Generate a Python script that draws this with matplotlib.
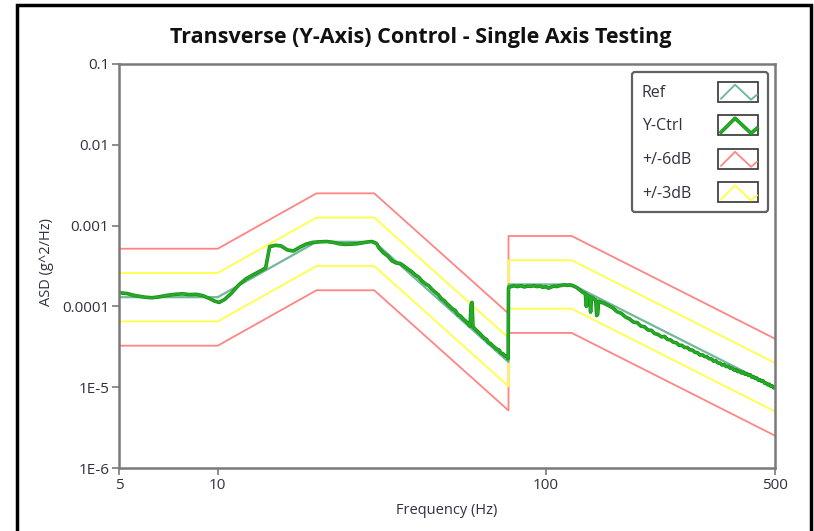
import numpy as np
import matplotlib
matplotlib.use('Agg')
import matplotlib.pyplot as plt
import matplotlib.patheffects as pe
from matplotlib.patches import Rectangle
from matplotlib.lines import Line2D
from matplotlib.legend_handler import HandlerBase
from matplotlib.ticker import NullLocator

plt.rcParams['font.family'] = ['Open Sans', 'DejaVu Sans']

# reference profile breakpoints (Hz, g^2/Hz)
ref_freq = [5, 10, 20, 30, 77, 77, 120, 500]
ref_asd = [1.3e-4, 1.3e-4, 6.3e-4, 6.3e-4, 2.05e-5, 1.87e-4, 1.87e-4, 1.0e-5]

# tolerance bands around the reference, in dB
abort_db = 6
alarm_db = 3

# measured control spectrum
ctrl_freq = [5.0, 5.3, 5.6, 6.0, 6.3, 6.6, 7.0, 7.4, 7.8, 8.2,
             8.6, 9.0, 9.4, 9.8, 10.1, 10.5, 11.0, 11.6, 12.2, 12.8,
             13.5, 14.0, 14.4, 15.0, 15.6, 16.3, 17.0, 17.8, 18.6, 19.5,
             20.5, 21.5, 22.5, 23.5, 24.5, 25.5, 26.5, 27.5, 28.5, 29.5,
             30.5, 31, 32, 33, 34, 35, 36, 37, 38, 39,
             40, 41, 42, 43, 44, 45, 46, 47, 48, 49,
             50, 51, 52, 53, 54, 55, 56, 57, 58, 58.8,
             59.2, 59.6, 60.0, 61, 62, 63, 64, 65, 66, 67,
             68, 69, 70, 71, 72, 73, 74, 75, 76, 76.8,
             77.0, 78, 80, 82, 84, 86, 88, 90, 92, 94,
             96, 98, 100, 102, 104, 106, 108, 110, 112, 114,
             116, 118, 121, 124, 127, 130, 132, 133, 134, 136,
             137, 138, 140, 142, 143, 144, 145, 148, 150, 155,
             160, 165, 170, 175, 180, 185, 190, 195, 200, 205,
             210, 215, 220, 225, 230, 235, 240, 245, 250, 255,
             260, 265, 270, 275, 280, 285, 290, 295, 300, 305,
             310, 315, 320, 325, 330, 335, 340, 345, 350, 355,
             360, 365, 370, 375, 380, 385, 390, 395, 400, 405,
             410, 415, 420, 425, 430, 435, 440, 445, 450, 455,
             460, 465, 470, 475, 480, 485, 490, 495, 500]
ctrl_asd = [1.48e-4, 1.44e-4, 1.36e-4, 1.3e-4, 1.28e-4, 1.31e-4, 1.37e-4, 1.41e-4, 1.43e-4, 1.4e-4,
            1.41e-4, 1.36e-4, 1.26e-4, 1.16e-4, 1.12e-4, 1.22e-4, 1.45e-4, 1.85e-4, 2.2e-4, 2.45e-4,
            2.75e-4, 3.0e-4, 5.5e-4, 5.7e-4, 5.6e-4, 5.0e-4, 4.85e-4, 5.4e-4, 5.9e-4, 6.2e-4,
            6.3e-4, 6.35e-4, 6.2e-4, 5.95e-4, 5.85e-4, 5.9e-4, 5.95e-4, 6.1e-4, 6.25e-4, 6.35e-4,
            6.0e-4, 5.3e-4, 4.6e-4, 4.2e-4, 3.65e-4, 3.45e-4, 3.4e-4, 3.15e-4, 2.9e-4, 2.7e-4,
            2.45e-4, 2.3e-4, 2.05e-4, 1.9e-4, 1.8e-4, 1.62e-4, 1.5e-4, 1.4e-4, 1.25e-4, 1.18e-4,
            1.08e-4, 1.0e-4, 9.3e-5, 8.9e-5, 7.9e-5, 7.6e-5, 7.0e-5, 6.6e-5, 6.1e-5, 5.7e-5,
            1.05e-4, 1.12e-4, 5.6e-5, 5.2e-5, 4.9e-5, 4.6e-5, 4.3e-5, 4.05e-5, 3.9e-5, 3.55e-5,
            3.45e-5, 3.25e-5, 3.1e-5, 2.95e-5, 2.9e-5, 2.65e-5, 2.6e-5, 2.45e-5, 2.4e-5, 2.25e-5,
            1.7e-4, 1.75e-4, 1.8e-4, 1.76e-4, 1.8e-4, 1.74e-4, 1.78e-4, 1.77e-4, 1.8e-4, 1.76e-4,
            1.78e-4, 1.72e-4, 1.75e-4, 1.68e-4, 1.74e-4, 1.78e-4, 1.76e-4, 1.8e-4, 1.82e-4, 1.85e-4,
            1.82e-4, 1.84e-4, 1.8e-4, 1.72e-4, 1.6e-4, 1.48e-4, 1.45e-4, 1.0e-4, 1.38e-4, 1.32e-4,
            8.5e-5, 1.3e-4, 1.25e-4, 1.2e-4, 7.7e-5, 8.0e-5, 1.16e-4, 1.12e-4, 1.1e-4, 1.03e-4,
            9.6e-5, 8.6e-5, 8.2e-5, 7.4e-5, 7.0e-5, 6.4e-5, 6.3e-5, 5.7e-5, 5.6e-5, 5.1e-5,
            5.05e-5, 4.6e-5, 4.5e-5, 4.2e-5, 4.25e-5, 3.9e-5, 3.85e-5, 3.6e-5, 3.55e-5, 3.3e-5,
            3.3e-5, 3.1e-5, 3.1e-5, 2.9e-5, 2.88e-5, 2.7e-5, 2.68e-5, 2.5e-5, 2.52e-5, 2.4e-5,
            2.38e-5, 2.25e-5, 2.24e-5, 2.1e-5, 2.12e-5, 2.0e-5, 1.98e-5, 1.88e-5, 1.9e-5, 1.8e-5,
            1.82e-5, 1.72e-5, 1.72e-5, 1.63e-5, 1.65e-5, 1.56e-5, 1.58e-5, 1.5e-5, 1.53e-5, 1.45e-5,
            1.47e-5, 1.4e-5, 1.43e-5, 1.33e-5, 1.35e-5, 1.28e-5, 1.3e-5, 1.22e-5, 1.24e-5, 1.18e-5,
            1.2e-5, 1.12e-5, 1.12e-5, 1.07e-5, 1.09e-5, 1.03e-5, 1.04e-5, 9.8e-6, 1.0e-5]

x_ticks = [5, 10, 100, 500]
y_ticks = [1e-6, 1e-5, 1e-4, 1e-3, 1e-2, 1e-1]
y_tick_labels = ['1E-6', '1E-5', '0.0001', '0.001', '0.01', '0.1']
legend_labels = ['Ref', 'Y-Ctrl', '+/-6dB', '+/-3dB']

RED = '#ff8585'
YELLOW = '#ffff45'
REF = '#74b89a'
CTRL = '#22ad22'
AXIS_GRAY = '#7a7a7a'
TEXT = '#2f3240'


class ZigzagHandler(HandlerBase):
    """legend swatch: small boxed zig-zag in the line's colour"""
    def create_artists(self, legend, orig_handle, xdescent, ydescent,
                       width, height, fontsize, trans):
        x0, y0 = -xdescent, -ydescent
        box = Rectangle((x0, y0), width, height, fill=False,
                        ec='#333333', lw=1.2, transform=trans)
        fx = np.array([0.07, 0.42, 0.82, 0.97])
        fy = np.array([0.15, 0.85, 0.1, 0.35])
        zig = Line2D(x0 + fx * width, y0 + fy * height,
                     color=orig_handle.get_color(),
                     lw=orig_handle.get_linewidth(),
                     path_effects=orig_handle.get_path_effects(),
                     transform=trans)
        return [box, zig]


fig = plt.figure(figsize=(8.14, 5.31), dpi=100)
ax = fig.add_axes([119 / 814, 1 - 468 / 531, 656 / 814, 404 / 531])

ref = np.array(ref_asd)
for db, col in [(abort_db, RED), (alarm_db, YELLOW)]:
    ax.plot(ref_freq, ref * 10 ** (db / 10), color=col, lw=1.3)
    ax.plot(ref_freq, ref * 10 ** (-db / 10), color=col, lw=1.3)

ax.plot(ref_freq, ref_asd, color=REF, lw=1.6)
ctrl_fx = [pe.Stroke(linewidth=2.6, foreground='#1b8a1b'), pe.Normal()]
ax.plot(ctrl_freq, ctrl_asd, color=CTRL, lw=1.6, path_effects=ctrl_fx)

ax.set_xscale('log')
ax.set_yscale('log')
ax.set_xlim(5, 500)
ax.set_ylim(1e-6, 0.1)
ax.set_xticks(x_ticks)
ax.set_xticklabels([str(t) for t in x_ticks])
ax.set_yticks(y_ticks)
ax.set_yticklabels(y_tick_labels)
ax.xaxis.set_minor_locator(NullLocator())
ax.yaxis.set_minor_locator(NullLocator())
ax.tick_params(length=5, width=1.2, color=AXIS_GRAY, labelcolor=TEXT,
               labelsize=11, pad=2)
for sp in ax.spines.values():
    sp.set_color(AXIS_GRAY)
    sp.set_linewidth(1.8)

handles = [
    Line2D([], [], color=REF, lw=1.4),
    Line2D([], [], color=CTRL, lw=1.8, path_effects=ctrl_fx),
    Line2D([], [], color=RED, lw=1.3),
    Line2D([], [], color=YELLOW, lw=1.3),
]
leg = ax.legend(handles, legend_labels, handler_map={Line2D: ZigzagHandler()},
                loc='upper right', bbox_to_anchor=(0.989, 0.98),
                borderaxespad=0, markerfirst=False, fontsize=11.5,
                handlelength=2.5, handleheight=1.55, labelspacing=0.85,
                handletextpad=1.7, borderpad=0.6, fancybox=True,
                framealpha=1, edgecolor='#606060')
leg.get_frame().set_linewidth(1.6)
for t in leg.get_texts():
    t.set_color(TEXT)

# keep the labels left-aligned with the swatches lined up on the right
renderer = fig.canvas.get_renderer()
widths = [t.get_window_extent(renderer).width for t in leg.get_texts()]
px_to_pt = 72 / fig.dpi
for col in leg._legend_handle_box.get_children():
    for item, w in zip(col.get_children(), widths):
        item.sep += (max(widths) - w) * px_to_pt

fig.text(421 / 814, 1 - 38 / 531, 'Transverse (Y-Axis) Control - Single Axis Testing',
         ha='center', va='center', fontsize=15.5, fontweight='bold', color='#111111')
fig.text(47 / 814, 1 - 262 / 531, 'ASD (g^2/Hz)', rotation=90,
         ha='center', va='center', fontsize=10.5, color=TEXT)
fig.text(447 / 814, 1 - 511 / 531, 'Frequency (Hz)',
         ha='center', va='center', fontsize=10.5, color=TEXT)

# outer panel border
fig.patches.append(Rectangle((17 / 814, -0.05), (811 - 17) / 814, 1.05 - 5 / 531,
                             transform=fig.transFigure, fill=False,
                             ec='black', lw=2.5))

fig.savefig('out.png', dpi=100)
